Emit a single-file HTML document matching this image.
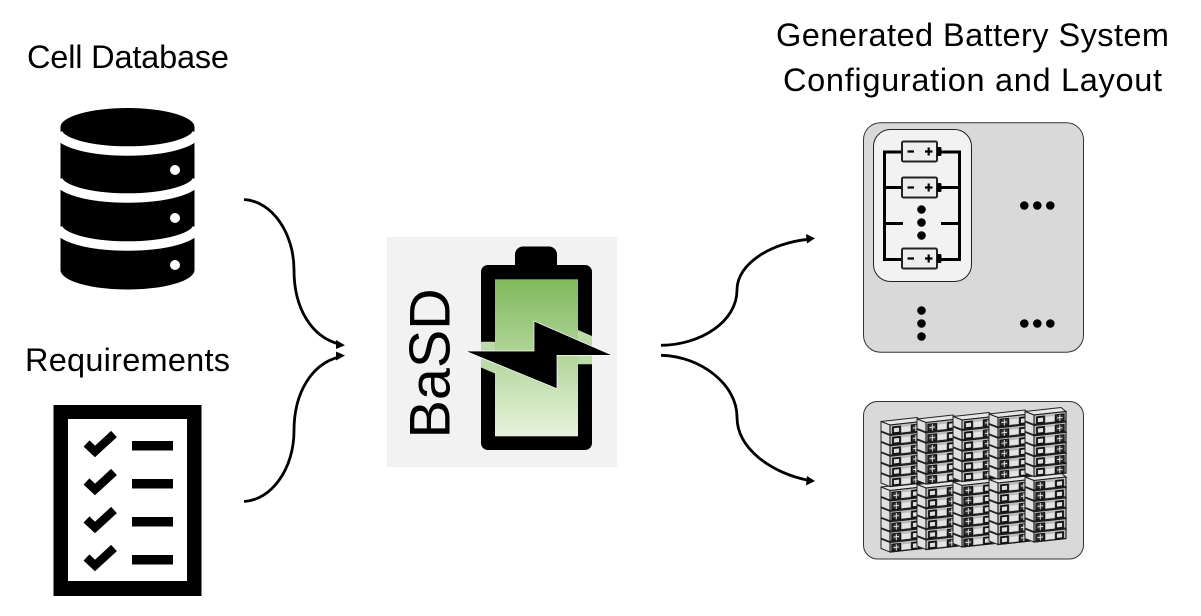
<!DOCTYPE html>
<html><head><meta charset="utf-8"><style>
html,body{margin:0;padding:0;background:#fff}
svg{display:block}
text{font-family:"Liberation Sans",sans-serif;fill:#000}
</style></head><body>
<svg width="1201" height="616" viewBox="0 0 1201 616" xmlns="http://www.w3.org/2000/svg">
<defs>
<linearGradient id="g" gradientUnits="userSpaceOnUse" x1="0" y1="279" x2="0" y2="436">
<stop offset="0" stop-color="#7fb95c"/><stop offset="1" stop-color="#e7f3dc"/></linearGradient>
<g id="batt">
<rect x="0" y="0" width="35" height="20" rx="1.5" fill="#eeeeee" stroke="#222" stroke-width="2"/>
<rect x="35" y="5.500" width="4.500" height="9" rx="1.500" fill="#000"/>
<path d="M5.500 10h6.500M23 10h7.500M26.700 6v8" stroke="#000" stroke-width="2.200" fill="none"/>
</g>
<g id="ca">
<path d="M0 0L36-4L41 0L9 3.500Z" fill="#e6e6e6" stroke="#222" stroke-width="1"/>
<path d="M0 0L9 3.500V13L0 9.500Z" fill="#e0e0e0" stroke="#222" stroke-width="1"/>
<path d="M9 3.500L41 0V9.500L9 13Z" fill="#bcbcbc" stroke="#1a1a1a" stroke-width="1.100"/>
<path d="M9 13L41 9.500" stroke="#222" stroke-width="1.300" fill="none"/>
<path d="M12 5.800l7-.8v6l-7 .8Z" fill="#ddd" stroke="#111" stroke-width="1.800"/>
<path d="M30.500 3.500l8.500-.9v6.400l-8.500 .9Z" fill="#333" stroke="#111" stroke-width="1.200"/>
<path d="M34.800 3.200v6.400M32 6.500l5.500-.6" stroke="#eee" stroke-width=".9"/>
<path d="M21 5.500l8-.9v5l-8 .9Z" fill="#e4e4e4"/>
</g>
<g id="cb">
<path d="M0 0L36-4L41 0L9 3.500Z" fill="#e6e6e6" stroke="#222" stroke-width="1"/>
<path d="M0 0L9 3.500V13L0 9.500Z" fill="#e0e0e0" stroke="#222" stroke-width="1"/>
<path d="M9 3.500L41 0V9.500L9 13Z" fill="#bcbcbc" stroke="#1a1a1a" stroke-width="1.100"/>
<path d="M9 13L41 9.500" stroke="#222" stroke-width="1.300" fill="none"/>
<path d="M11 5.400l8.500-.9v6.400l-8.500 .9Z" fill="#333" stroke="#111" stroke-width="1.200"/>
<path d="M15.300 5.200v6.400M12.500 8.500l5.500-.6" stroke="#eee" stroke-width=".9"/>
<path d="M31 3.900l7-.8v6l-7 .8Z" fill="#ddd" stroke="#111" stroke-width="1.800"/>
<path d="M21 5.500l8-.9v5l-8 .9Z" fill="#e4e4e4"/>
</g>
<g id="sa"><use href="#ca" y="52"/><use href="#ca" y="41.600"/><use href="#ca" y="31.200"/><use href="#ca" y="20.800"/><use href="#ca" y="10.400"/><use href="#ca"/></g>
<g id="sb"><use href="#cb" y="52"/><use href="#cb" y="41.600"/><use href="#cb" y="31.200"/><use href="#cb" y="20.800"/><use href="#cb" y="10.400"/><use href="#cb"/></g>
</defs>
<rect width="1201" height="616" fill="#fff"/>

<text x="27" y="68" font-size="32.500" textLength="202" lengthAdjust="spacing">Cell Database</text>
<text x="25" y="371" font-size="32.500" textLength="205" lengthAdjust="spacing">Requirements</text>
<text x="776" y="46" font-size="32.500" textLength="393" lengthAdjust="spacing">Generated Battery System</text>
<text x="783" y="91" font-size="32.500" textLength="379" lengthAdjust="spacing">Configuration and Layout</text>

<!-- database -->
<path d="M60.500 127V270A67 19.500 0 0 0 194.500 270V127Z" fill="#000"/>
<ellipse cx="127.500" cy="127" rx="67" ry="19" fill="#000"/>
<path d="M58 131.500A69.500 19.500 0 0 0 197 131.500M58 178.500A69.500 19.500 0 0 0 197 178.500M58 226.500A69.500 19.500 0 0 0 197 226.500" fill="none" stroke="#fff" stroke-width="9.500"/>
<circle cx="175" cy="170" r="5" fill="#fff"/><circle cx="175" cy="218" r="5" fill="#fff"/><circle cx="175" cy="265" r="5" fill="#fff"/>

<!-- checklist -->
<rect x="53.500" y="405" width="148" height="191" fill="#000"/>
<rect x="68" y="419" width="119" height="162" fill="#fff"/>
<g fill="#000"><rect x="132" y="441" width="41" height="9.500"/><rect x="132" y="479" width="41" height="9.500"/><rect x="132" y="517" width="41" height="9.500"/><rect x="132" y="555" width="41" height="9.500"/></g>
<g fill="none" stroke="#000" stroke-width="8.500">
<path d="M86.500 443.500L95 451.500L114 434"/><path d="M86.500 481.500L95 489.500L114 472"/><path d="M86.500 519.500L95 527.500L114 510"/><path d="M86.500 557.500L95 565.500L114 548"/></g>

<!-- arrows -->
<g fill="none" stroke="#000" stroke-width="2.800">
<path d="M244 199.500C272 201 294 233 294 270C294 309 312 337 339 344"/>
<path d="M244 501.500C272 500 294 468 294 431C294 392 312 364 339 357"/>
<path d="M661 345.300C700 345 737 322 737 290C737 263 772 243 808 239.300"/>
<path d="M661 355.300C700 356 737 384 737 417C737 449 772 473 808 480.200"/>
</g>
<path d="M345 345.300L336 340L336 349Z M345 355.500L336 351.500L336 360.500Z M815 238.300L806 234L807 243.500Z M815 481L807 476L806 485.500Z" fill="#000"/>

<!-- BaSD -->
<rect x="387" y="237" width="230" height="230" fill="#f2f2f2"/>
<rect x="515" y="246.500" width="42" height="30" rx="8" fill="#000"/>
<rect x="481" y="265" width="111" height="185" rx="7" fill="#000"/>
<rect x="495" y="279.300" width="83" height="157" fill="url(#g)"/>
<path d="M481 367.500L495 373.500V341.700H481Z" fill="#bcdba8"/>
<path d="M578 330L578 364.300H592V336Z" fill="#bcdba8"/>
<path d="M465 351H534V321L612.500 355.300H557V388.700Z" fill="#000" stroke="#fff" stroke-width=".7"/>
<text transform="translate(449.500 438.500) rotate(-90)" font-size="57.500" fill="#111">BaSD</text>

<!-- panel 1 -->
<rect x="863.500" y="122.700" width="220" height="229.500" rx="17" fill="#d9d9d9" stroke="#333" stroke-width="1"/>
<rect x="873.500" y="129.500" width="98" height="152" rx="17" fill="#f2f2f2" stroke="#222" stroke-width="1"/>
<path d="M903 152H884.500V259.500H903M941 152H959.500V259.500H941M884.500 187.500H903M941 187.500H959.500M884.500 223.500H903M941 223.500H959.500" fill="none" stroke="#000" stroke-width="3"/>
<use href="#batt" x="902" y="141.500"/><use href="#batt" x="902" y="177.500"/><use href="#batt" x="902" y="248.500"/>
<g fill="#000">
<circle cx="921.500" cy="209.500" r="4.300"/><circle cx="921.500" cy="222.500" r="4.300"/><circle cx="921.500" cy="235.500" r="4.300"/>
<circle cx="1024.300" cy="205.500" r="4.300"/><circle cx="1037.300" cy="205.500" r="4.300"/><circle cx="1050.300" cy="205.500" r="4.300"/>
<circle cx="1024.300" cy="323.500" r="4.300"/><circle cx="1037.300" cy="323.500" r="4.300"/><circle cx="1050.300" cy="323.500" r="4.300"/>
<circle cx="921.500" cy="310.500" r="4.300"/><circle cx="921.500" cy="323.500" r="4.300"/><circle cx="921.500" cy="336.500" r="4.300"/>
</g>

<!-- panel 2 -->
<rect x="863.500" y="401.500" width="220" height="157.500" rx="14" fill="#d9d9d9" stroke="#333" stroke-width="1"/>
<use href="#sb" x="881" y="487"/>
<use href="#sa" x="917" y="484.500"/>
<use href="#sb" x="953" y="482"/>
<use href="#sa" x="989" y="479.500"/>
<use href="#sb" x="1025" y="477"/>
<use href="#sa" x="881" y="421.500"/>
<use href="#sb" x="917" y="419"/>
<use href="#sa" x="953" y="416.500"/>
<use href="#sb" x="989" y="414"/>
<use href="#sa" x="1025" y="411.500"/>
</svg>
</body></html>
